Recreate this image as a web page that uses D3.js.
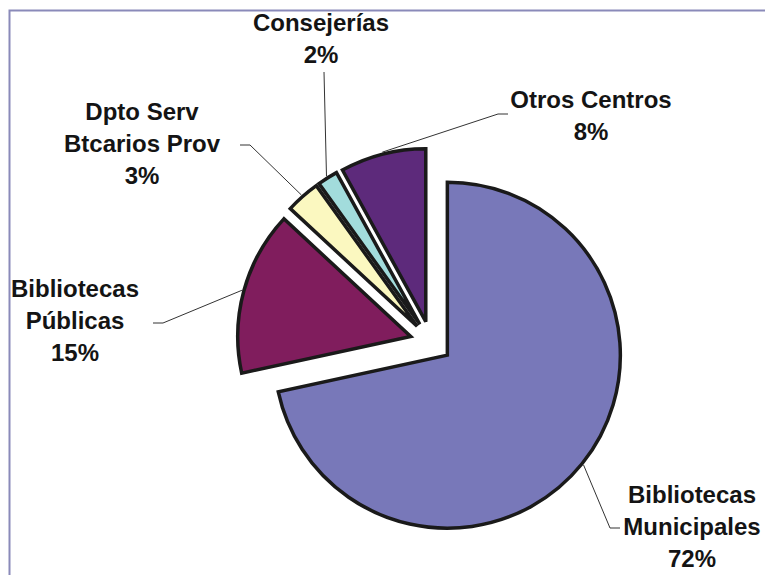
<!DOCTYPE html>
<html>
<head>
<meta charset="utf-8">
<script src="https://cdn.jsdelivr.net/npm/d3@7"></script>
<style>
  body { margin: 0; background: #fff; }
  svg { display: block; }
  .lbl { font-family: "Liberation Sans", Arial, sans-serif; font-weight: bold; font-size: 24px; fill: #141414; }
</style>
</head>
<body>
<div id="chart"></div>
<script>
// data
var categories = ["Bibliotecas\nMunicipales", "Bibliotecas\nPúblicas", "Dpto Serv\nBtcarios Prov", "Consejerías", "Otros Centros"];
var shares = [71.6, 15.3, 3.2, 1.9, 8.0];
var colors = ["#7878b9", "#801d5d", "#fbf8c0", "#a2dcdc", "#5d2a7b"];

// label layout: text centre, first baseline, leader elbow/end points
var labelLayout = [
    { x: 692, y: 503, leader: [[610, 528], [620, 528]] },
    { x: 75, y: 297, leader: [[163, 323], [153, 323]] },
    { x: 142, y: 120, leader: [[250, 145], [240, 145]] },
    { x: 321, y: 31, leader: [[324, 72]] },
    { x: 591, y: 108, leader: [[498, 114], [508, 114]] }
];

var width = 765,
    height = 575,
    cx = 431,
    cy = 342,
    radius = 173,
    explode = 21,
    lineH = 32;

var svg = d3.select("#chart").append("svg")
    .attr("width", width)
    .attr("height", height);

// frame
svg.append("path")
    .attr("d", "M9.5," + height + "V10.5H" + width)
    .attr("fill", "none")
    .attr("stroke", "#8a8ab9")
    .attr("stroke-width", 2);

var pie = d3.pie().sort(null).value(function (d) { return d; });
var arc = d3.arc().innerRadius(0).outerRadius(radius);
var arcs = pie(shares);

function offset(d, dist) {
    var a = (d.startAngle + d.endAngle) / 2;
    return [Math.sin(a) * dist, -Math.cos(a) * dist];
}

var g = svg.append("g").attr("transform", "translate(" + cx + "," + cy + ")");

g.selectAll(".slice")
    .data(arcs)
    .enter().append("path")
    .attr("class", "slice")
    .attr("transform", function (d) { var o = offset(d, explode); return "translate(" + o[0] + "," + o[1] + ")"; })
    .attr("d", arc)
    .attr("fill", function (d, i) { return colors[i]; })
    .attr("stroke", "#1a1a1a")
    .attr("stroke-width", 3.5)
    .attr("stroke-linejoin", "miter");

// leader lines
var line = d3.line();
svg.selectAll(".leader")
    .data(arcs)
    .enter().append("path")
    .attr("class", "leader")
    .attr("d", function (d, i) {
        var o = offset(d, explode), p = offset(d, radius + 2);
        var start = [cx + o[0] + p[0], cy + o[1] + p[1]];
        return line([start].concat(labelLayout[i].leader));
    })
    .attr("fill", "none")
    .attr("stroke", "#333")
    .attr("stroke-width", 1);

// labels
var labels = svg.selectAll(".lbl")
    .data(arcs)
    .enter().append("text")
    .attr("class", "lbl")
    .attr("text-anchor", "middle");

labels.each(function (d, i) {
    var lines = categories[i].split("\n").concat([Math.round(d.value) + "%"]);
    d3.select(this).selectAll("tspan")
        .data(lines)
        .enter().append("tspan")
        .attr("x", labelLayout[i].x)
        .attr("y", function (t, k) { return labelLayout[i].y + k * lineH; })
        .text(function (t) { return t; });
});
</script>
</body>
</html>
